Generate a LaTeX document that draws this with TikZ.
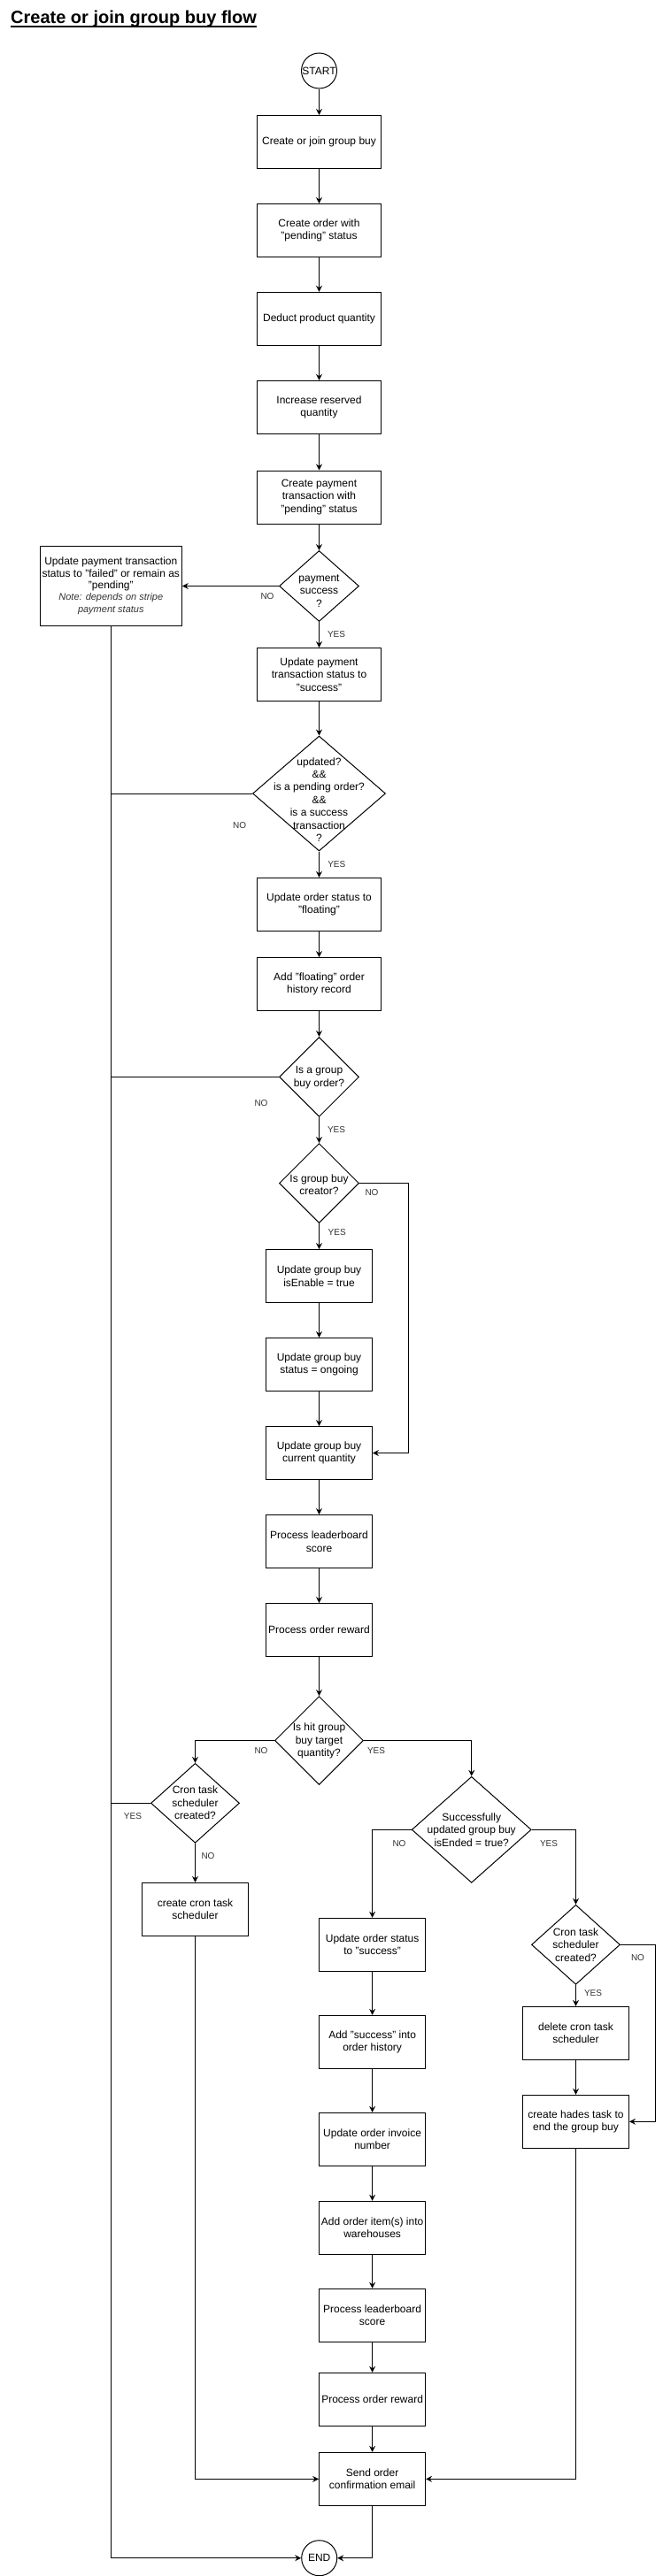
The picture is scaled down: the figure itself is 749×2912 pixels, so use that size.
\documentclass[tikz,border=0pt]{standalone}
\usepackage{fontspec}
\setmainfont{Liberation Sans}
\usetikzlibrary{arrows.meta,shapes.geometric}
\definecolor{labgray}{HTML}{333333}
\begin{document}
\begin{tikzpicture}[x=1pt,y=-1pt,
 line width=1pt,
 every node/.style={font=\fontsize{12}{14.4}\selectfont},
 box/.style={draw,rectangle,minimum width=140pt,minimum height=60pt,inner sep=0pt,align=center},
 sbox/.style={box,minimum width=120pt},
 dia/.style 2 args={draw,diamond,minimum width=#1,minimum height=#2,inner sep=0pt},
 dtext/.style={align=center,inner sep=0pt},
 term/.style={draw,circle,minimum size=40pt,inner sep=0pt},
 lab/.style={font=\fontsize{10}{12}\selectfont,text=labgray,inner sep=0pt},
 arr/.style={-{Stealth[length=7pt,width=7pt,inset=2.5pt]}},
]
\fill[white] (0,0) rectangle (749,2912);
\useasboundingbox (0,0) rectangle (749,2912);

% title
\node[inner sep=0pt,anchor=base west,font=\fontsize{20}{24}\selectfont\bfseries] (title) at (11.7,26.7) {Create or join group buy flow};
\draw[line width=1.8pt] ([yshift=-3.6pt]title.base west) -- ([yshift=-3.6pt]title.base east);

% main column
\node[term] (start) at (360.5,80) {\makebox[0pt]{START}};
\node[box] (b1) at (360.5,160.5) {Create or join group buy};
\node[box] (b2) at (360.5,260.5) {Create order with\\"pending" status};
\node[box] (b3) at (360.5,360.3) {Deduct product quantity};
\node[box] (b4) at (360.5,460.3) {Increase reserved\\quantity};
\node[box] (b5) at (360.5,562) {Create payment\\transaction with\\"pending" status};
\node[dia={90pt}{80pt}] (d1) at (360.5,662.5) {};
\node[dtext] (d1t) at (360.5,668) {payment\\success\\?};
\node[box,minimum width=160pt,minimum height=90pt,font=\fontsize{12}{13.4}\selectfont] (fail) at (125.3,662.3) {Update payment transaction\\status to "failed" or remain as\\"pending"\\{\fontsize{11}{13}\selectfont\itshape\color{labgray}Note: depends on stripe}\\{\fontsize{11}{13}\selectfont\itshape\color{labgray}payment status}};
\node[box] (b6) at (360.5,762.5) {Update payment\\transaction status to\\"success"};
\node[dia={150pt}{130pt}] (d2) at (360.5,897) {};
\node[dtext] (d2t) at (360.5,904) {updated?\\\&\&\\is a pending order?\\\&\&\\is a success\\transaction\\?};
\node[box] (b7) at (360.5,1022.3) {Update order status to\\"floating"};
\node[box] (b8) at (360.5,1112.5) {Add "floating" order\\history record};
\node[dia={90pt}{90pt}] (d3) at (360.5,1217.4) {};
\node[dtext] (d3t) at (360.5,1218) {Is a group\\buy order?};
\node[dia={90pt}{90pt}] (d4) at (360.5,1337.5) {};
\node[dtext] (d4t) at (360.5,1339) {Is group buy\\creator?};
\node[sbox] (b9) at (360.5,1442.5) {Update group buy\\isEnable = true};
\node[sbox] (b10) at (360.5,1542.5) {Update group buy\\status = ongoing};
\node[sbox] (b11) at (360.5,1642.5) {Update group buy\\current quantity};
\node[sbox] (b12) at (360.5,1742.5) {Process leaderboard\\score};
\node[sbox] (b13) at (360.5,1842.5) {Process order reward};
\node[dia={100pt}{100pt}] (d5) at (360.5,1967.5) {};
\node[dtext] (d5t) at (360.5,1968) {Is hit group\\buy target\\quantity?};

% left branch
\node[dia={100pt}{90pt}] (d6) at (220.5,2038.3) {};
\node[dtext] (d6t) at (220.5,2038) {Cron task\\scheduler\\created?};
\node[sbox] (b14) at (220.5,2158.3) {create cron task\\scheduler};

% right branch
\node[dia={135pt}{120pt}] (d7) at (532.7,2068.3) {};
\node[dtext] (d7t) at (532.7,2068.3) {Successfully\\updated group buy\\isEnded = true?};
\node[sbox] (b15) at (420.6,2198.3) {Update order status\\to "success"};
\node[sbox] (b16) at (420.6,2308.3) {Add "success" into\\order history};
\node[sbox] (b17) at (420.6,2418.3) {Update order invoice\\number};
\node[sbox] (b20) at (420.6,2518.3) {Add order item(s) into\\warehouses};
\node[sbox] (b21) at (420.6,2617.3) {Process leaderboard\\score};
\node[sbox] (b22) at (420.6,2712.3) {Process order reward};
\node[sbox] (b23) at (420.6,2802.3) {Send order\\confirmation email};
\node[dia={100pt}{90pt}] (d8) at (650.5,2198.3) {};
\node[dtext] (d8t) at (650.5,2198.3) {Cron task\\scheduler\\created?};
\node[sbox] (b18) at (650.5,2298.3) {delete cron task\\scheduler};
\node[sbox] (b19) at (650.5,2398.3) {create hades task to\\end the group buy};
\node[term] (endc) at (360.7,2891.7) {\makebox[0pt]{END}};

% connectors
\draw[arr] (start) -- (b1);
\draw[arr] (b1) -- (b2);
\draw[arr] (b2) -- (b3);
\draw[arr] (b3) -- (b4);
\draw[arr] (b4) -- (b5);
\draw[arr] (b5) -- (d1);
\draw[arr] (d1) -- (b6);
\draw[arr] (b6) -- (d2);
\draw[arr] (d2) -- (b7);
\draw[arr] (b7) -- (b8);
\draw[arr] (b8) -- (d3);
\draw[arr] (d3) -- (d4);
\draw[arr] (d4) -- (b9);
\draw[arr] (b9) -- (b10);
\draw[arr] (b10) -- (b11);
\draw[arr] (b11) -- (b12);
\draw[arr] (b12) -- (b13);
\draw[arr] (b13) -- (d5);
\draw[arr] (d1.west) -- (d1.west -| fail.east);
\draw[arr] (fail.south) |- (endc.west);
\draw (d2.west) -- (d2.west -| fail.south);
\draw (d3.west) -- (d3.west -| fail.south);
\draw (d6.west) -- (d6.west -| fail.south);
\coordinate (n4) at (461.5,1337.5);
\draw[arr] (d4.east) -- (n4) |- (b11.east);
\draw[arr] (d5.west) -| (d6.north);
\draw[arr] (d5.east) -| (d7.north);
\draw[arr] (d6) -- (b14);
\draw[arr] (d7.west) -| (b15.north);
\draw[arr] (d7.east) -| (d8.north);
\draw[arr] (b15) -- (b16);
\draw[arr] (b16) -- (b17);
\draw[arr] (b17) -- (b20);
\draw[arr] (b20) -- (b21);
\draw[arr] (b21) -- (b22);
\draw[arr] (b22) -- (b23);
\draw[arr] (d8) -- (b18);
\draw[arr] (b18) -- (b19);
\coordinate (n8) at (740.5,2198.3);
\draw[arr] (d8.east) -- (n8) |- (b19.east);
\draw[arr] (b14.south) |- (b23.west);
\draw[arr] (b19.south) |- (b23.east);
\draw[arr] (b23.south) |- (endc.east);

% labels
\node[lab] (l1) at (302,674.5) {NO};
\node[lab] (l2) at (380,717) {YES};
\node[lab] (l3) at (270.7,932.7) {NO};
\node[lab] (l4) at (380.3,977) {YES};
\node[lab] (l5) at (295,1247) {NO};
\node[lab] (l6) at (380,1277) {YES};
\node[lab] (l7) at (420,1347.7) {NO};
\node[lab] (l8) at (380.7,1392.7) {YES};
\node[lab] (l9) at (295,1978.7) {NO};
\node[lab] (l10) at (425,1978.7) {YES};
\node[lab] (l11) at (150,2053) {YES};
\node[lab] (l12) at (235,2098.3) {NO};
\node[lab] (l13) at (451,2084) {NO};
\node[lab] (l14) at (620,2084) {YES};
\node[lab] (l15) at (720.5,2213.3) {NO};
\node[lab] (l16) at (670,2253.3) {YES};
\end{tikzpicture}
\end{document}
